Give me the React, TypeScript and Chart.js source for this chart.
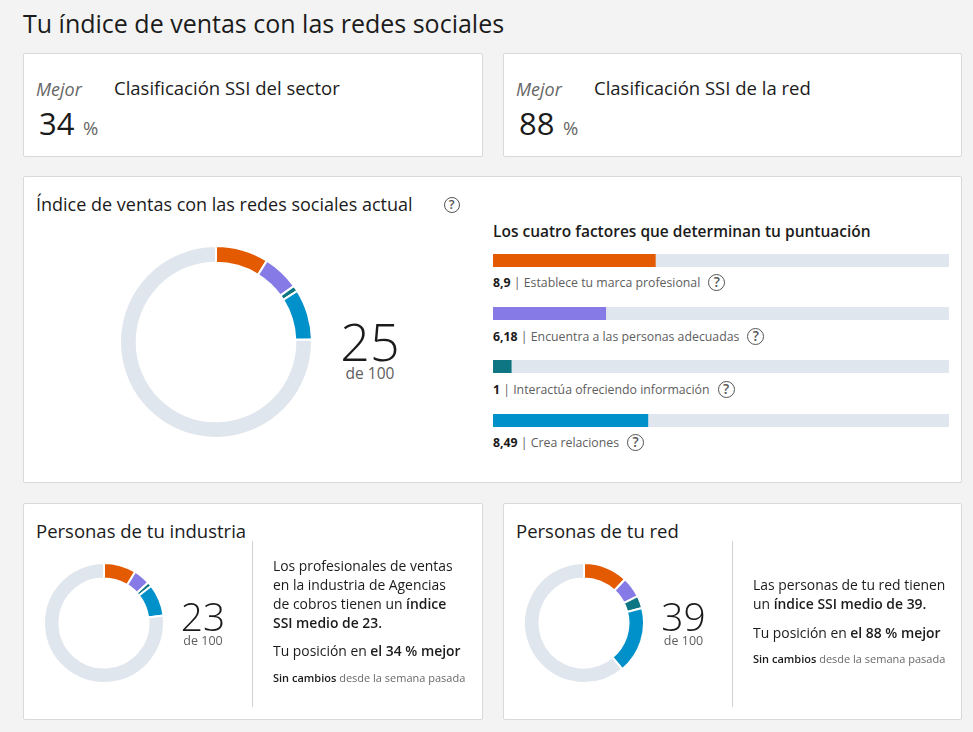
import React, { useEffect, useRef } from "react";
import { Chart, registerables } from "chart.js";

Chart.register(...registerables);

const FONT = "'Segoe UI', 'Open Sans', 'Noto Sans', sans-serif";
const TEXT = "#1b1b1b";
const MUTED = "#5e5e5e";

// ---------- data ----------
const factorNames = [
  "Establece tu marca profesional",
  "Encuentra a las personas adecuadas",
  "Interactúa ofreciendo información",
  "Crea relaciones",
];
const factorColors = ["#e35a00", "#867ae6", "#0d7682", "#0091ca"];
const trackColor = "#e0e6ed";
const factorMax = 25;
const scoreMax = 100;

const myFactorScores = [8.9, 6.18, 1, 8.49];
const industryFactorScores = [8.7, 4.5, 1.2, 8.6];
const networkFactorScores = [12.0, 5.6, 3.4, 18.0];

const myScore = 25;
const industryScore = 23;
const networkScore = 39;

const sectorRankPct = 34;
const networkRankPct = 88;

const fmt = (v: number) => String(v).replace(".", ",");

// ---------- helpers ----------
function T({ x, y, size, lh, children, style }: any) {
  const L = lh ?? Math.round(size * 1.35);
  return (
    <div
      style={{
        position: "absolute",
        left: x,
        top: y - L / 2,
        fontSize: size,
        lineHeight: L + "px",
        whiteSpace: "nowrap",
        color: TEXT,
        ...style,
      }}
    >
      {children}
    </div>
  );
}

function Help({ size = 15, style }: any) {
  return (
    <span
      style={{
        display: "inline-block",
        width: size,
        height: size,
        boxSizing: "border-box",
        border: "1.6px solid #555",
        borderRadius: "50%",
        color: "#555",
        fontSize: size * 0.8,
        fontWeight: 600,
        lineHeight: size - 3 + "px",
        textAlign: "center",
        verticalAlign: "middle",
        ...style,
      }}
    >
      ?
    </span>
  );
}

function Card({ x, y, w, h, children }: any) {
  return (
    <div
      style={{
        position: "absolute",
        left: x,
        top: y,
        width: w,
        height: h,
        boxSizing: "border-box",
        background: "#fff",
        border: "1px solid #d9d9d9",
        borderRadius: 2,
      }}
    >
      {children}
    </div>
  );
}

function Donut({ values, total, radius, thickness, cx, cy }: any) {
  const ref = useRef<HTMLCanvasElement>(null);
  useEffect(() => {
    const sum = values.reduce((a: number, b: number) => a + b, 0);
    const chart = new Chart(ref.current!, {
      type: "doughnut",
      data: {
        labels: [...factorNames, "Resto"],
        datasets: [
          {
            data: [...values, total - sum],
            backgroundColor: [...factorColors, trackColor],
            borderColor: "#ffffff",
            borderWidth: 2,
            hoverOffset: 0,
          },
        ],
      },
      options: {
        responsive: false,
        animation: false,
        events: [],
        radius: radius,
        cutout: radius - thickness,
        layout: { padding: 0 },
        plugins: { legend: { display: false }, tooltip: { enabled: false } },
      } as any,
    });
    return () => chart.destroy();
  }, []);
  const size = radius * 2 + 6;
  return (
    <canvas
      ref={ref}
      width={size}
      height={size}
      style={{ position: "absolute", left: cx - size / 2, top: cy - size / 2, width: size, height: size }}
    />
  );
}

function FactorBar({ value, color, x, y, w, h }: any) {
  const ref = useRef<HTMLCanvasElement>(null);
  useEffect(() => {
    const chart = new Chart(ref.current!, {
      type: "bar",
      data: {
        labels: [""],
        datasets: [
          {
            data: [value],
            backgroundColor: color,
            grouped: false,
            order: 0,
            borderRadius: { topLeft: 2, bottomLeft: 2, topRight: 0, bottomRight: 0 },
            borderSkipped: false,
            barPercentage: 1,
            categoryPercentage: 1,
          },
          {
            data: [factorMax],
            backgroundColor: trackColor,
            grouped: false,
            order: 1,
            borderRadius: 2,
            borderSkipped: false,
            barPercentage: 1,
            categoryPercentage: 1,
          },
        ],
      } as any,
      options: {
        indexAxis: "y",
        responsive: false,
        animation: false,
        events: [],
        layout: { padding: 0 },
        scales: {
          x: { display: false, min: 0, max: factorMax },
          y: { display: false },
        },
        plugins: { legend: { display: false }, tooltip: { enabled: false } },
      } as any,
    });
    return () => chart.destroy();
  }, []);
  return (
    <canvas
      ref={ref}
      width={w}
      height={h}
      style={{ position: "absolute", left: x, top: y, width: w, height: h }}
    />
  );
}

const barTops = [254, 307, 360, 414];
const labelYs = [283, 337, 390, 443];

export default function App() {
  return (
    <div
      style={{
        position: "absolute",
        left: 0,
        top: 0,
        width: 973,
        height: 732,
        overflow: "hidden",
        background: "#f3f3f3",
        fontFamily: FONT,
        color: TEXT,
      }}
    >
      <T x={23} y={23} size={25} lh={34}>
        Tu índice de ventas con las redes sociales
      </T>

      <Card x={23} y={53} w={460} h={104} />
      <Card x={503} y={53} w={459} h={104} />
      <Card x={23} y={176} w={939} h={307} />
      <Card x={23} y={503} w={460} h={217} />
      <Card x={503} y={503} w={459} h={217} />

      {/* top cards */}
      {[
        { ox: 0, pct: sectorRankPct, label: "Clasificación SSI del sector" },
        { ox: 480, pct: networkRankPct, label: "Clasificación SSI de la red" },
      ].map((c, i) => (
        <React.Fragment key={i}>
          <T x={36 + c.ox} y={89} size={18} style={{ fontStyle: "italic", color: "#666" }}>
            Mejor
          </T>
          <T x={39 + c.ox} y={123} size={31} lh={38}>
            {c.pct}
          </T>
          <T x={83 + c.ox} y={128} size={18.5} lh={24} style={{ color: "#666" }}>
            %
          </T>
          <T x={114 + c.ox} y={87} size={18.5}>
            {c.label}
          </T>
        </React.Fragment>
      ))}

      {/* main card */}
      <T x={36} y={204} size={18}>
        Índice de ventas con las redes sociales actual
        <Help size={16} style={{ marginLeft: 31, marginTop: -3 }} />
      </T>
      <Donut values={myFactorScores} total={scoreMax} radius={96} thickness={15} cx={216} cy={341.5} />
      <T x={320} y={341} size={52} lh={40} style={{ width: 100, textAlign: "center", fontWeight: 300 }}>
        {myScore}
      </T>
      <T x={320} y={373} size={15.5} lh={20} style={{ width: 100, textAlign: "center", color: MUTED }}>
        de {scoreMax}
      </T>

      <T x={493} y={231} size={15.5} lh={22} style={{ fontWeight: 600 }}>
        Los cuatro factores que determinan tu puntuación
      </T>
      {myFactorScores.map((v, i) => (
        <React.Fragment key={i}>
          <FactorBar value={v} color={factorColors[i]} x={493} y={barTops[i]} w={456} h={13} />
          <T x={493} y={labelYs[i]} size={12.3} lh={20} style={{ color: MUTED }}>
            <b style={{ color: TEXT, fontWeight: 700 }}>{fmt(v)}</b> | {factorNames[i]}
            <Help size={17} style={{ marginLeft: 8, marginTop: -2 }} />
          </T>
        </React.Fragment>
      ))}

      {/* industry card */}
      <T x={36} y={530} size={18.5}>
        Personas de tu industria
      </T>
      <Donut values={industryFactorScores} total={scoreMax} radius={60} thickness={14} cx={103.5} cy={622.5} />
      <T x={153} y={616} size={39} lh={30} style={{ width: 100, textAlign: "center", fontWeight: 300 }}>
        {industryScore}
      </T>
      <T x={153} y={641} size={12.5} lh={14} style={{ width: 100, textAlign: "center", color: MUTED }}>
        de {scoreMax}
      </T>
      <div style={{ position: "absolute", left: 252, top: 541, width: 1, height: 166, background: "#d0d0d0" }} />
      <div
        style={{
          position: "absolute",
          left: 273,
          top: 555.5,
          fontSize: 13.9,
          lineHeight: "19px",
          whiteSpace: "nowrap",
          color: TEXT,
        }}
      >
        Los profesionales de ventas
        <br />
        en la industria de Agencias
        <br />
        de cobros tienen un <b style={{ fontWeight: 600 }}>índice</b>
        <br />
        <b style={{ fontWeight: 600 }}>SSI medio de {industryScore}.</b>
      </div>
      <T x={273} y={650} size={13.9} lh={19}>
        Tu posición en <b style={{ fontWeight: 600 }}>el {sectorRankPct} % mejor</b>
      </T>
      <T x={273} y={677} size={11} lh={15} style={{ color: "#6a6a6a" }}>
        <b style={{ fontWeight: 600, color: TEXT }}>Sin cambios</b> desde la semana pasada
      </T>

      {/* network card */}
      <T x={516} y={530} size={18.5}>
        Personas de tu red
      </T>
      <Donut values={networkFactorScores} total={scoreMax} radius={60} thickness={14} cx={583.5} cy={622.5} />
      <T x={633.5} y={616} size={39} lh={30} style={{ width: 100, textAlign: "center", fontWeight: 300 }}>
        {networkScore}
      </T>
      <T x={633.5} y={641} size={12.5} lh={14} style={{ width: 100, textAlign: "center", color: MUTED }}>
        de {scoreMax}
      </T>
      <div style={{ position: "absolute", left: 732, top: 541, width: 1, height: 166, background: "#d0d0d0" }} />
      <div
        style={{
          position: "absolute",
          left: 753,
          top: 574.5,
          fontSize: 13.9,
          lineHeight: "19px",
          whiteSpace: "nowrap",
          color: TEXT,
        }}
      >
        Las personas de tu red tienen
        <br />
        un <b style={{ fontWeight: 600 }}>índice SSI medio de {networkScore}.</b>
      </div>
      <T x={753} y={632} size={13.9} lh={19}>
        Tu posición en <b style={{ fontWeight: 600 }}>el {networkRankPct} % mejor</b>
      </T>
      <T x={753} y={658} size={11} lh={15} style={{ color: "#6a6a6a" }}>
        <b style={{ fontWeight: 600, color: TEXT }}>Sin cambios</b> desde la semana pasada
      </T>
    </div>
  );
}
